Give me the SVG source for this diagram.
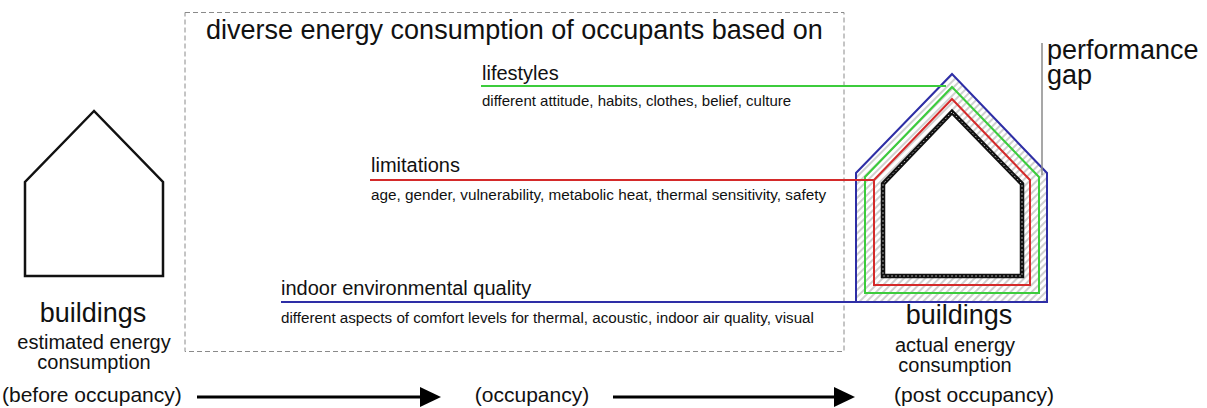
<svg xmlns="http://www.w3.org/2000/svg" width="1207" height="408" viewBox="0 0 1207 408">
<style>
text{font-family:"Liberation Sans",Arial,sans-serif;fill:#111}
.big{font-size:27px}
.mid{font-size:20px}
.small{font-size:15px}
.lab{font-size:21px}
.house{fill:#fff;stroke:#111;stroke-width:2.5;stroke-linejoin:miter}
.conn{fill:none;stroke-width:2}
.arrow{stroke:#000;stroke-width:3;fill:none}
</style>
<defs>
<pattern id="hatch" width="5" height="5" patternUnits="userSpaceOnUse" patternTransform="rotate(45)">
<rect width="5" height="5" fill="#fff"/>
<line x1="1" y1="0" x2="1" y2="5" stroke="#b0b0b0" stroke-width="1.2"/>
</pattern>
</defs>
<rect width="1207" height="408" fill="#fff"/>

<g id="factors-box">
<rect x="185" y="12.5" width="659" height="339" fill="none" stroke="#8a8a8a" stroke-width="1" stroke-dasharray="5 3"/>
<text class="big" x="206" y="39">diverse energy consumption of occupants based on</text>
</g>

<g id="house-estimated">
<polygon class="house" points="94,111 25,182 25,276 163,276 163,182"/>
<text class="big" x="93" y="322" text-anchor="middle">buildings</text>
<text class="mid" x="94" y="349" text-anchor="middle">estimated energy</text>
<text class="mid" x="94" y="369" text-anchor="middle">consumption</text>
<text class="lab" x="2" y="402">(before occupancy)</text>
</g>

<g id="house-actual">
<polygon points="952,74 856,173 856,302 1047,302 1047,173" fill="url(#hatch)" stroke="#2e2ea6" stroke-width="2"/>
<polygon points="952,87 865,177 865,293 1039,293 1039,177" fill="none" stroke="#3ccc3c" stroke-width="2"/>
<polygon points="952,99 874,180 874,285 1030,285 1030,180" fill="none" stroke="#d42a2a" stroke-width="2"/>
<polygon points="952,112 883,184 883,276 1022,276 1022,184" fill="#fff" stroke="#111" stroke-width="4.5"/>
<polygon points="952,112 883,184 883,276 1022,276 1022,184" fill="none" stroke="#ccc" stroke-width="1" stroke-dasharray="1.5 2.5"/>
<text class="big" x="959" y="324" text-anchor="middle">buildings</text>
<text class="mid" x="955" y="352" text-anchor="middle">actual energy</text>
<text class="mid" x="955" y="372" text-anchor="middle">consumption</text>
<text class="lab" x="974" y="402" text-anchor="middle">(post occupancy)</text>
</g>

<g id="lifestyles">
<text class="mid" x="482" y="80">lifestyles</text>
<text class="small" x="482" y="106">different attitude, habits, clothes, belief, culture</text>
</g>

<g id="limitations">
<text class="mid" x="371" y="172">limitations</text>
<text class="small" x="371" y="200" style="font-size:15.3px">age, gender, vulnerability, metabolic heat, thermal sensitivity, safety</text>
</g>

<g id="ieq">
<text class="mid" x="281" y="295">indoor environmental quality</text>
<text class="small" x="281" y="323" style="font-size:15.2px">different aspects of comfort levels for thermal, acoustic, indoor air quality, visual</text>
</g>

<g id="performance-gap">
<text class="big" x="1047" y="59">performance</text>
<text class="big" x="1047" y="84">gap</text>
</g>

<g id="occupancy">
<text class="lab" x="532" y="402" text-anchor="middle">(occupancy)</text>
</g>

<g id="connectors">
<line class="conn" x1="481" y1="86" x2="946" y2="86" stroke="#3ccc3c"/>
<line class="conn" x1="370" y1="180" x2="874" y2="180" stroke="#d42a2a"/>
<line class="conn" x1="281" y1="302" x2="856" y2="302" stroke="#2e2ea6"/>
<line x1="1042" y1="43" x2="1042" y2="175" stroke="#8a8a8a" stroke-width="1.5"/>
<line class="arrow" x1="197" y1="397" x2="424" y2="397"/>
<polygon points="420,387 441,397 420,407" fill="#000"/>
<line class="arrow" x1="613" y1="397" x2="838" y2="397"/>
<polygon points="834,387 855,397 834,407" fill="#000"/>
</g>
</svg>
